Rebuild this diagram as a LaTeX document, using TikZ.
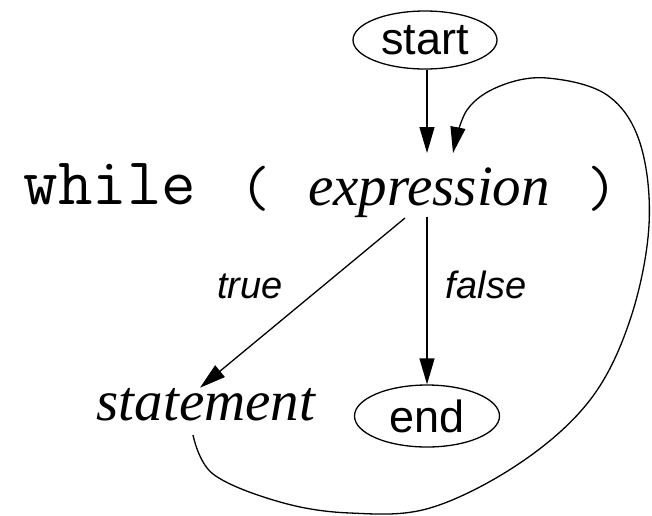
\documentclass[tikz,border=0pt]{standalone}
\usepackage{fontspec}
\setmainfont{Liberation Serif}
\newfontfamily\sansfnt{Liberation Sans}
\usetikzlibrary{arrows.meta,shapes.geometric}
\begin{document}
\begin{tikzpicture}[x=1pt,y=-1pt,
  term/.style={draw,ellipse,line width=1.3pt,inner sep=0pt,font=\sansfnt\fontsize{45}{45}\selectfont},
  code/.style={anchor=base,inner sep=0pt,font=\ttfamily\fontsize{67}{67}\selectfont},
  paren/.style={anchor=base,inner sep=0pt,font=\ttfamily\fontsize{58}{58}\selectfont},
  var/.style={anchor=base,inner sep=0pt,font=\itshape\fontsize{57}{57}\selectfont},
  lbl/.style={anchor=base,inner sep=0pt,font=\sansfnt\itshape\fontsize{38}{38}\selectfont},
  flow/.style={line width=1.3pt,-{Triangle[length=26pt,width=15pt]}}]
\useasboundingbox (0,0) rectangle (652,515);
\node[term,minimum width=144pt,minimum height=58pt] (start) at (425,40) {start};
\node[code] (while) at (110,204) {while};
\node[paren] (lp) at (255,206) {(};
\node[var] (expr) at (429,205) {expression};
\node[paren] (rp) at (602,206) {)};
\node[var] (stmt) at (206,420) {statement};
\node[term,minimum width=145pt,minimum height=62pt] (end) at (427,416) {end};
\node[lbl] (ltrue) at (250,298) {true};
\node[lbl] (lfalse) at (486,298) {false};
\coordinate (in1) at (427,153);
\coordinate (in2) at (453,153);
\coordinate (out1) at (405,218);
\coordinate (out2) at (427,217);
\coordinate (sout) at (193,435);
\draw[flow] (start.south -| in1) -- (in1);
\draw[flow] (out1) -- (stmt.north east -| 200,375);
\draw[flow] (out2) -- (end.north);
\draw[flow] plot[smooth,tension=0.6] coordinates {(193,435) (213,474) (280,502) (350,513) (430,508) (520,463) (590,400) (630,320) (649,225) (640,143) (607,95) (547,78) (500,86) (467,110) (453,153)};
\end{tikzpicture}
\end{document}
